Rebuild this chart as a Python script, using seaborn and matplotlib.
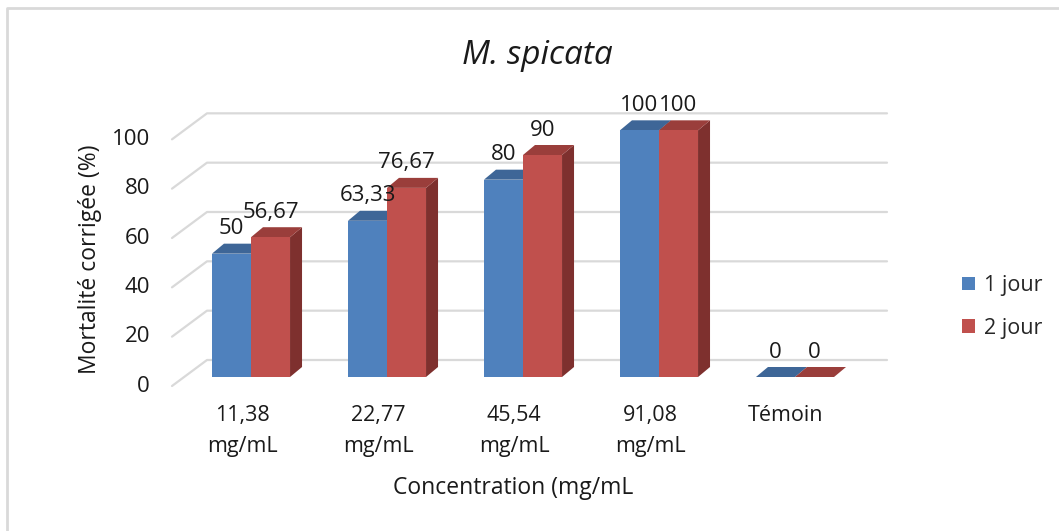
import matplotlib
matplotlib.use("Agg")
import matplotlib.pyplot as plt
import matplotlib.transforms as mtransforms
from matplotlib.patches import Polygon, Patch
from matplotlib.lines import Line2D
import pandas as pd
import seaborn as sns

# data
concentrations = ["11,38\nmg/mL", "22,77\nmg/mL", "45,54\nmg/mL", "91,08\nmg/mL", "Témoin"]
jour_1 = [50, 63.33, 80, 100, 0]
jour_2 = [56.67, 76.67, 90, 100, 0]
series = ["1 jour", "2 jour"]
y_ticks = [0, 20, 40, 60, 80, 100]

front_col = {"1 jour": "#4F81BD", "2 jour": "#C0504D"}
top_col = {"1 jour": "#3E6697", "2 jour": "#9A3E3B"}
side_col = {"1 jour": "#36597F", "2 jour": "#7E302E"}
text_col = "#1a1a1a"
grid_col = "#D9D9D9"

df = pd.DataFrame({
    "concentration": concentrations * 2,
    "mortalite": jour_1 + jour_2,
    "serie": [series[0]] * len(jour_1) + [series[1]] * len(jour_2),
})

sns.set_theme(style="white")
plt.rcParams["font.family"] = ["Open Sans", "DejaVu Sans"]

W, H = 1059, 531
fig = plt.figure(figsize=(W / 100, H / 100), dpi=100)
fig.patch.set_facecolor("white")
ax = fig.add_axes([183 / W, (H - 377) / H, 680 / W, 296 / H])

sns.barplot(data=df, x="concentration", y="mortalite", hue="serie",
            hue_order=series, order=concentrations, palette=front_col,
            width=0.574, saturation=1, legend=False, ax=ax, zorder=3,
            linewidth=0, edgecolor="none")
ax.set_xlim(-0.5, len(concentrations) - 0.5)
ax.set_ylim(0, 120)
ax.axis("off")

ident = mtransforms.IdentityTransform()
dx, dy = 12, 10  # bar depth in pixels


def px(x, y):
    return ax.transData.transform((x, y))


# back wall gridlines + floor diagonals
left = px(-0.5, 0)[0]
right = px(len(concentrations) - 0.5, 0)[0]
for v in y_ticks:
    yv = px(0, v)[1]
    ax.add_line(Line2D([left - 11, left + 24, right + 24], [yv - 9, yv + 17, yv + 17],
                       transform=ident, color=grid_col, lw=1.6, clip_on=False, zorder=1))
    ax.text(150, yv - 9, str(v), transform=ident, ha="right", va="center",
            fontsize=16, color=text_col)

# 3d faces and value labels
for serie, cont in zip(series, ax.containers):
    for rect in cont:
        x0, w, h = rect.get_x(), rect.get_width(), rect.get_height()
        xl, yb = px(x0, 0)
        xr, yt = px(x0 + w, h)
        side = [(xr, yb), (xr + dx, yb + dy), (xr + dx, yt + dy), (xr, yt)]
        top = [(xl, yt), (xl + dx, yt + dy), (xr + dx, yt + dy), (xr, yt)]
        ax.add_patch(Polygon(side, closed=True, transform=ident, facecolor=side_col[serie],
                             edgecolor="none", clip_on=False, zorder=2))
        ax.add_patch(Polygon(top, closed=True, transform=ident, facecolor=top_col[serie],
                             edgecolor="none", clip_on=False, zorder=2))
        label = f"{h:g}".replace(".", ",")
        ax.annotate(label, (x0 + w / 2, h), xytext=(0, 18), textcoords="offset points",
                    ha="center", va="center", fontsize=16, color=text_col)

# category labels
for i, lab in enumerate(concentrations):
    xc = px(i, 0)[0] - 9
    ax.text(xc, H - 405, lab, transform=ident, ha="center", va="top",
            fontsize=15.5, color=text_col, linespacing=1.65)

fig.text(513 / W, 1 - 488 / H, "Concentration (mg/mL", ha="center", va="center",
         fontsize=16.5, color=text_col)
fig.text(90 / W, 1 - 259 / H, "Mortalité corrigée (%)", rotation=90, ha="center",
         va="center", fontsize=16.5, color=text_col)
fig.text(537 / W, 1 - 56 / H, "M. spicata", ha="center", va="center", fontsize=24,
         style="italic", color=text_col)

handles = [Patch(facecolor=front_col[s], edgecolor="none") for s in series]
fig.legend(handles, series, loc="center left", bbox_to_anchor=(962 / W, 1 - 307 / H),
           frameon=False, fontsize=15.5, handlelength=0.6, handleheight=0.6,
           labelspacing=1.0, handletextpad=0.4, borderaxespad=0, borderpad=0)

# chart area frame (left and top edges visible)
fig.add_artist(Line2D([7 / W, 7 / W, 1], [0, 1 - 8 / H, 1 - 8 / H],
                      transform=fig.transFigure, color=grid_col, lw=2))

fig.savefig("out.png", dpi=100)
